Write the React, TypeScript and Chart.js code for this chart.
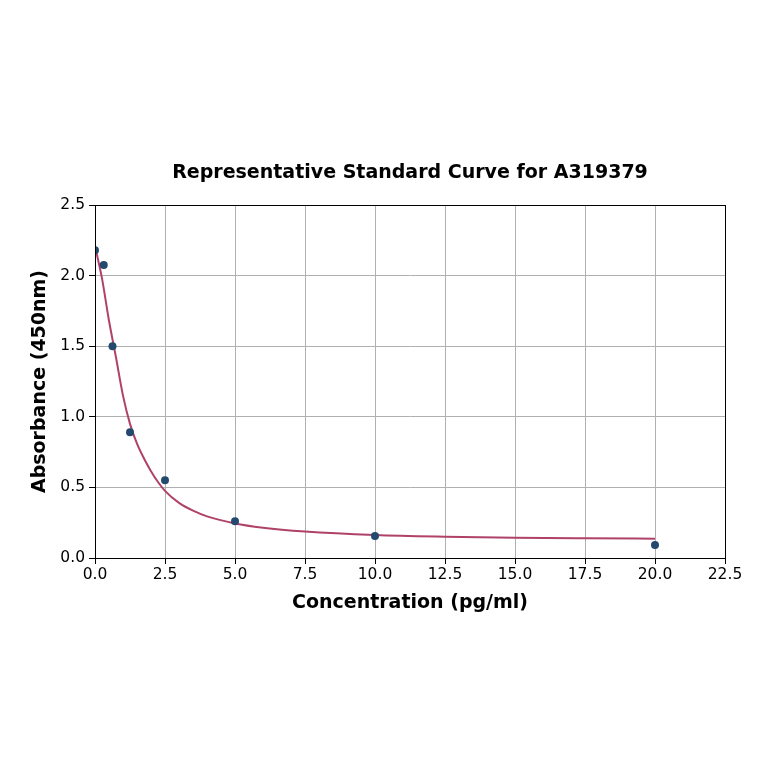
import React, { useEffect, useRef } from "react";
import { Chart, registerables } from "chart.js";

Chart.register(...registerables);

const titleText = "Representative Standard Curve for A319379";
const xTitle = "Concentration (pg/ml)";
const yTitle = "Absorbance (450nm)";

const concentrations = [0, 0.3125, 0.625, 1.25, 2.5, 5, 10, 20];
const absorbances = [2.18, 2.075, 1.5, 0.89, 0.55, 0.26, 0.156, 0.092];

const curveX = [0, 0.25, 0.5, 0.75, 1, 1.25, 1.5, 1.75, 2, 2.25, 2.5, 3, 3.5, 4, 5, 6, 7.5, 10, 12.5, 15, 17.5, 20];
const curveY = [2.21, 1.98, 1.68, 1.42, 1.15, 0.95, 0.81, 0.705, 0.615, 0.538, 0.475, 0.39, 0.335, 0.295, 0.245, 0.215, 0.188, 0.163, 0.151, 0.144, 0.14, 0.137];

const xTicks = [0, 2.5, 5, 7.5, 10, 12.5, 15, 17.5, 20, 22.5];
const yTicks = [0, 0.5, 1, 1.5, 2, 2.5];

const FONT = "'DejaVu Sans', sans-serif";

export default function App() {
  const ref = useRef<HTMLCanvasElement | null>(null);

  useEffect(() => {
    document.body.style.margin = "0";
    const canvas = ref.current;
    if (!canvas) return;

    const textPlugin = {
      id: "texts",
      afterDraw(chart: any) {
        const ctx = chart.ctx;
        const area = chart.chartArea;
        const cx = (area.left + area.right) / 2;
        ctx.save();
        ctx.fillStyle = "#000";
        ctx.textAlign = "center";
        ctx.textBaseline = "middle";
        ctx.font = `bold 19px ${FONT}`;
        ctx.fillText(titleText, cx, 173);
        ctx.fillText(xTitle, cx, 603);
        ctx.translate(40, (area.top + area.bottom) / 2);
        ctx.rotate(-Math.PI / 2);
        ctx.fillText(yTitle, 0, 0);
        ctx.restore();
        ctx.save();
        ctx.strokeStyle = "#000";
        ctx.lineWidth = 1;
        ctx.strokeRect(area.left + 0.5, area.top + 0.5, area.right - area.left, area.bottom - area.top);
        ctx.restore();
      },
    };

    const chart = new Chart(canvas, {
      type: "scatter",
      data: {
        datasets: [
          {
            label: "fit",
            data: curveX.map((x, i) => ({ x, y: curveY[i] })),
            showLine: true,
            borderColor: "#b0426a",
            borderWidth: 2,
            pointRadius: 0,
            cubicInterpolationMode: "monotone",
            order: 2,
          } as any,
          {
            label: "points",
            data: concentrations.map((x, i) => ({ x, y: absorbances[i] })),
            showLine: false,
            pointRadius: 4,
            pointBackgroundColor: "#24496e",
            pointBorderColor: "#24496e",
            pointBorderWidth: 0,
            order: 1,
          },
        ],
      },
      options: {
        animation: false,
        responsive: false,
        devicePixelRatio: 1,
        layout: { padding: { top: 205, right: 39, bottom: 0, left: 0 } },
        plugins: {
          legend: { display: false },
          title: { display: false },
          tooltip: { enabled: false },
        },
        scales: {
          x: {
            type: "linear",
            min: 0,
            max: 22.5,
            afterBuildTicks: (s: any) => {
              s.ticks = xTicks.map((v) => ({ value: v }));
            },
            afterFit: (s: any) => {
              s.height = 764 - 558;
            },
            grid: {
              color: "#b0b0b0",
              lineWidth: 1,
              drawTicks: true,
              tickLength: 6,
              tickColor: "#000",
            },
            border: { display: true, color: "#000" },
            ticks: {
              color: "#000",
              font: { family: FONT, size: 15.5 },
              padding: 2,
              maxRotation: 0,
              callback: (v: any) => Number(v).toFixed(1),
            },
          },
          y: {
            type: "linear",
            min: 0,
            max: 2.5,
            afterBuildTicks: (s: any) => {
              s.ticks = yTicks.map((v) => ({ value: v }));
            },
            afterFit: (s: any) => {
              s.width = 95;
            },
            grid: {
              color: "#b0b0b0",
              lineWidth: 1,
              drawTicks: true,
              tickLength: 6,
              tickColor: "#000",
            },
            border: { display: true, color: "#000" },
            ticks: {
              color: "#000",
              font: { family: FONT, size: 15.5 },
              padding: 4,
              callback: (v: any) => Number(v).toFixed(1),
            },
          },
        },
      },
      plugins: [textPlugin],
    });

    return () => chart.destroy();
  }, []);

  return (
    <div style={{ width: 764, height: 764, background: "#fff" }}>
      <canvas ref={ref} width={764} height={764} style={{ width: 764, height: 764, display: "block" }} />
    </div>
  );
}
